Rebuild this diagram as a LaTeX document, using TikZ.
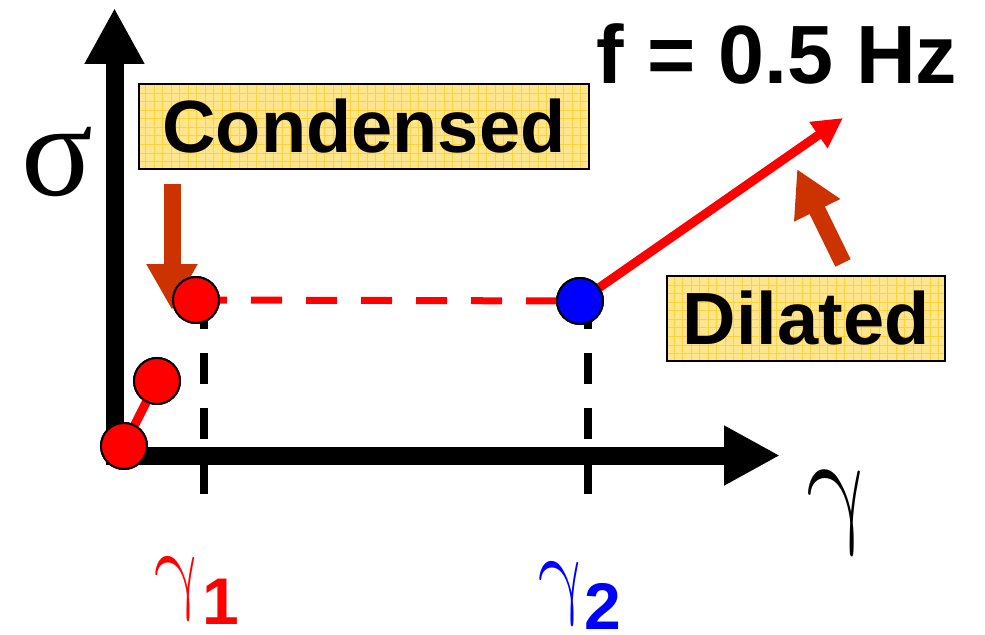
\RequirePackage{fix-cm}
\documentclass[tikz,border=0pt]{standalone}
\usepackage{fontspec}
\setmainfont{Liberation Sans}
\newfontfamily\greekfont{Liberation Serif}
\usetikzlibrary{arrows.meta,positioning}
\definecolor{rust}{HTML}{CC3300}
\definecolor{notefill}{HTML}{FFE68C}
\definecolor{notegrid}{HTML}{FFD23C}

\begin{document}
\begin{tikzpicture}[
    x=0.75pt, y=-0.75pt,
    axis/.style={line width=13.5pt, line join=miter, {Triangle[length=42pt,width=42pt]}-{Triangle[length=42pt,width=42pt]}},
    guide/.style={line width=6pt, dash pattern=on 23.25pt off 18pt},
    dot/.style={circle, draw=black, line width=1.5pt, minimum size=34.5pt, inner sep=0pt},
    tag/.style={rectangle, draw=black, line width=1.5pt, fill=notefill, minimum height=63.75pt, inner sep=0pt,
        font=\bfseries\fontsize{55.5}{60}\selectfont,
        path picture={\draw[notegrid, line width=0.6pt] (path picture bounding box.south west) grid[step=6.4pt] (path picture bounding box.north east);}},
    push/.style={rust, line width=12.75pt, -{Triangle[length=34.5pt,width=36pt]}},
    rise/.style={red, line width=6.75pt, -{Triangle[length=22.5pt,width=22.5pt]}},
    glyph/.style={inner sep=0pt, xslant=-0.2, xscale=0.82, transform shape},
    digit/.style={anchor=base west, inner sep=0pt, text depth=0pt, font=\bfseries\fontsize{49.5}{50}\selectfont}
]
\useasboundingbox (0,0) rectangle (985,635);
% axes
\coordinate (corner) at (114.5,455.5);
\coordinate (ytip) at (114.5,8);
\coordinate (xtip) at (780,455.5);
\draw[axis] (ytip) -- (corner) -- (xtip);
% guide lines down to the axis
\coordinate (g1top) at (204,298);
\coordinate (g1bot) at (204,496);
\coordinate (g2top) at (588,298);
\coordinate (g2bot) at (588,496);
\draw[guide] (g1top) -- (g1bot);
\draw[guide] (g2top) -- (g2bot);
% points
\node[dot, fill=red] (p0) at (124,446) {};
\node[dot, fill=red] (p1) at (157,381) {};
\node[dot, fill=red] (pc) at (196,300) {};
\node[dot, fill=blue] (pd) at (580,301) {};
\coordinate (rtip) at (843,118);
\draw[red, guide, line width=5.25pt] (pc.center) -- (pd.center);
\draw[red, line width=6.75pt] (p0.center) -- (p1.center);
\draw[rise] (pd.center) -- (rtip);
% labels
\node[tag, minimum width=337.5pt] (cond) at (364,126.5) {Condensed};
\node[tag, minimum width=208.5pt] (dil) at (806,318.5) {Dilated};
\coordinate (ctail) at (172,184);
\coordinate (ctip) at (172,310);
\coordinate (dtail) at (843,263);
\coordinate (dtip) at (797,169);
\draw[push] (ctail) -- (ctip);
\draw[push] (dtail) -- (dtip);
\node[dot, fill=red] at (pc) {};
\node[dot, fill=red] at (p0) {};
\node[dot, fill=red] at (p1) {};
\node[dot, fill=blue] at (pd) {};
\node[anchor=base, font=\bfseries\fontsize{62}{62}\selectfont] (freq) at (777,84) {f = 0.5 Hz};
\node[inner sep=0pt, anchor=base, font=\greekfont\fontsize{100}{100}\selectfont] (sig) at (57,195) {σ};
\node[glyph, font=\fontsize{100}{100}\selectfont] (gam) at (841,513) {$\gamma$};
\node[glyph, red, font=\fontsize{75}{75}\selectfont] (gam1) at (180,589) {$\gamma$};
\node[digit, red] (sub1) at (202,624) {1};
\node[glyph, blue, font=\fontsize{75}{75}\selectfont] (gam2) at (564,594) {$\gamma$};
\node[digit, blue] (sub2) at (584,629) {2};
\end{tikzpicture}
\end{document}
